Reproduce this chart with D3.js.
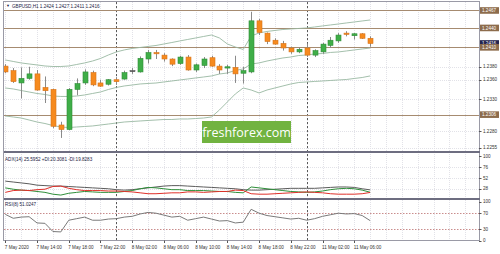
<!DOCTYPE html>
<html>
<head>
<meta charset="utf-8">
<script src="https://cdn.jsdelivr.net/npm/d3@7"></script>
<style>
  body { margin: 0; background: #fff; }
  svg text { font-family: "Liberation Sans", Arial, sans-serif; }
</style>
</head>
<body>
<div id="chart"></div>
<script>
// GBPUSD H1, bars from 7 May 10:00 to 11 May 08:00
const open  = [1.2381,1.2374,1.2355,1.2362,1.2369,1.2348,1.2345,1.2290,1.2283,1.2345,1.2355,1.2371,1.2355,1.2353,1.2360,1.2361,1.2374,1.2372,1.2392,1.2402,1.2398,1.2392,1.2385,1.2395,1.2375,1.2382,1.2394,1.2381,1.2378,1.2379,1.2370,1.2372,1.2451,1.2432,1.2421,1.2416,1.2409,1.2403,1.2409,1.2398,1.2403,1.2413,1.2420,1.2432,1.2428,1.2431,1.2424];
const high  = [1.2384,1.2378,1.2379,1.2380,1.2375,1.2365,1.2346,1.2295,1.2347,1.2362,1.2376,1.2374,1.2360,1.2361,1.2364,1.2374,1.2378,1.2396,1.2406,1.2406,1.2401,1.2393,1.2397,1.2398,1.2385,1.2395,1.2397,1.2384,1.2383,1.2397,1.2380,1.2465,1.2454,1.2433,1.2424,1.2420,1.2411,1.2410,1.2416,1.2407,1.2417,1.2426,1.2432,1.2435,1.2432,1.2432,1.2427];
const low   = [1.2370,1.2355,1.2331,1.2360,1.2343,1.2324,1.2285,1.2270,1.2282,1.2336,1.2352,1.2350,1.2349,1.2351,1.2352,1.2360,1.2369,1.2371,1.2385,1.2392,1.2388,1.2381,1.2383,1.2374,1.2372,1.2378,1.2380,1.2369,1.2369,1.2355,1.2354,1.2370,1.2429,1.2415,1.2414,1.2405,1.2400,1.2401,1.2395,1.2395,1.2400,1.2409,1.2417,1.2427,1.2422,1.2423,1.2411];
const close = [1.2372,1.2357,1.2362,1.2369,1.2344,1.2343,1.2288,1.2283,1.2345,1.2354,1.2372,1.2352,1.2350,1.2360,1.2357,1.2371,1.2374,1.2393,1.2402,1.2400,1.2392,1.2384,1.2395,1.2375,1.2383,1.2392,1.2381,1.2375,1.2380,1.2369,1.2374,1.2451,1.2433,1.2419,1.2415,1.2409,1.2403,1.2407,1.2398,1.2405,1.2415,1.2421,1.2429,1.2430,1.2431,1.2424,1.2416];

// Bollinger bands
const bbUpper  = [1.23905,1.23882,1.23859,1.23843,1.23828,1.23812,1.23804,1.23804,1.23812,1.23835,1.23859,1.23889,1.23928,1.23982,1.24029,1.2406,1.24083,1.24098,1.24114,1.24129,1.24152,1.24175,1.24199,1.24222,1.24245,1.24268,1.24291,1.24245,1.24152,1.24106,1.24067,1.24276,1.24322,1.24346,1.24361,1.24376,1.24384,1.24392,1.244,1.24415,1.24431,1.24446,1.24461,1.24477,1.24492,1.24508,1.24523];
const bbMiddle = [1.23472,1.23457,1.23433,1.2341,1.23387,1.23372,1.23348,1.23341,1.23341,1.23348,1.23364,1.23387,1.2341,1.23449,1.2348,1.23503,1.23518,1.23534,1.23542,1.23549,1.23565,1.2358,1.23596,1.23611,1.23627,1.23642,1.23658,1.23688,1.23704,1.23743,1.23766,1.23843,1.23859,1.23889,1.23913,1.23936,1.23951,1.23974,1.23982,1.23998,1.24005,1.24021,1.24029,1.24044,1.2406,1.24075,1.2409];
const bbLower  = [1.23039,1.23024,1.23008,1.22977,1.22946,1.22923,1.22892,1.22869,1.22861,1.22869,1.22877,1.22885,1.229,1.22915,1.22931,1.22946,1.22954,1.22962,1.2297,1.22977,1.22985,1.22985,1.22993,1.22993,1.23,1.23008,1.23024,1.23132,1.23256,1.23379,1.23472,1.23441,1.23395,1.23441,1.23472,1.23503,1.23534,1.23557,1.23565,1.23573,1.2358,1.23588,1.23596,1.23603,1.23619,1.23634,1.23658];

// ADX(14)
const adxMain = [45,43,41,39,36,35,34,34,33,32,31,30,29,28,26,25,26,28,30,32,34,35,35,34,33,32,31,30,29,28,26,25,25,26,27,28,29,29,29,29,30,31,32,32,31,28,25.6];
const plusDI  = [30,27,25,24,22,20,16,14,18,20,22,21,20,20,20,22,24,28,31,30,28,26,26,24,24,24,23,22,22,20,19,32,30,28,26,24,22,21,20,21,23,26,28,29,28,25,20.3];
const minusDI = [20,24,25,24,26,27,33,34,29,26,24,24,24,23,23,22,21,19,17,17,18,19,19,21,21,20,21,22,22,25,24,17,16,16,17,18,19,20,21,20,19,17,16,16,16,17,19.8];

// RSI(8)
const rsi = [67,57,60,61,45,44,23,22,52,56,60,52,52,55,56,60,62,68,72,70,65,60,62,52,56,60,55,50,51,45,47,80,70,64,61,58,55,57,52,56,62,66,70,68,69,64,51];

// horizontal levels drawn on the chart
const levels = [1.2467, 1.2440, 1.2410, 1.2306];
const lastPrice = 1.2416;

const priceTicks = [1.2380, 1.2360, 1.2330, 1.2280, 1.2255];
const adxTicks = [100, 76, 52, 28];
const rsiTicks = [100, 70, 30, 0];
const rsiLevels = [70, 30];

const timeLabels = [
  { bar: 0,  text: "7 May 2020" },
  { bar: 4,  text: "7 May 14:00" },
  { bar: 8,  text: "7 May 18:00" },
  { bar: 12, text: "7 May 22:00" },
  { bar: 16, text: "8 May 02:00" },
  { bar: 20, text: "8 May 06:00" },
  { bar: 24, text: "8 May 10:00" },
  { bar: 28, text: "8 May 14:00" },
  { bar: 32, text: "8 May 18:00" },
  { bar: 36, text: "8 May 22:00" },
  { bar: 40, text: "11 May 02:00" },
  { bar: 44, text: "11 May 06:00" }
];
const daySeparators = [14, 38];

const headerText = "GBPUSD,H1  1.2424 1.2427 1.2411 1.2416";
const adxText = "ADX(14) 25.5952 +DI:20.3081 -DI:19.8283";
const rsiText = "RSI(8) 51.0247";

// ---- layout ----
const W = 500, H = 254;
const L = 4, R = 479;
const main = { top: 2, bottom: 151 };
const adxP = { top: 153, bottom: 198 };
const rsiP = { top: 200, bottom: 240.5 };

const svg = d3.select("#chart").append("svg")
  .attr("width", W).attr("height", H);

const x = d3.scaleLinear().domain([-0.165, 59.73]).range([L, R]);
const y = d3.scaleLinear().domain([1.22498, 1.24801]).range([main.bottom, main.top]);
const yAdx = d3.scaleLinear().domain([7.5, 103]).range([adxP.bottom, 155]);
const yRsi = d3.scaleLinear().domain([0, 100]).range([rsiP.bottom, 201.5]);

const defs = svg.append("defs");
function clip(id, top, bottom) {
  defs.append("clipPath").attr("id", id)
    .append("rect").attr("x", L).attr("y", top).attr("width", R - L).attr("height", bottom - top);
}
clip("cMain", main.top, main.bottom);
clip("cAdx", adxP.top, adxP.bottom);
clip("cRsi", rsiP.top, rsiP.bottom);

// grid
const grid = svg.append("g").attr("stroke", "#e2e2e8").attr("stroke-width", 1)
  .attr("stroke-dasharray", "1,1");
grid.selectAll(".vg").data(d3.range(0, 60, 2)).enter().append("line")
  .attr("x1", d => Math.round(x(d)) + 0.5).attr("x2", d => Math.round(x(d)) + 0.5)
  .attr("y1", main.top).attr("y2", rsiP.bottom);
grid.selectAll(".hg").data(priceTicks).enter().append("line")
  .attr("x1", L).attr("x2", R)
  .attr("y1", d => Math.round(y(d)) + 0.5).attr("y2", d => Math.round(y(d)) + 0.5);
grid.selectAll(".ha").data(adxTicks.slice(1)).enter().append("line")
  .attr("x1", L).attr("x2", R)
  .attr("y1", d => Math.round(yAdx(d)) + 0.5).attr("y2", d => Math.round(yAdx(d)) + 0.5);

// day separators
svg.append("g").selectAll("line").data(daySeparators).enter().append("line")
  .attr("x1", d => Math.round(x(d)) + 0.5).attr("x2", d => Math.round(x(d)) + 0.5)
  .attr("y1", main.top).attr("y2", rsiP.bottom)
  .attr("stroke", "#5a5a5a").attr("stroke-width", 1).attr("stroke-dasharray", "2,2");

// horizontal levels
svg.append("g").selectAll("line").data(levels).enter().append("line")
  .attr("x1", L).attr("x2", R)
  .attr("y1", d => Math.round(y(d)) + 0.5).attr("y2", d => Math.round(y(d)) + 0.5)
  .attr("stroke", "#a68b70").attr("stroke-width", 1);

// watermark
const wm = svg.append("g");
wm.append("rect").attr("x", 202).attr("y", 121).attr("width", 89).attr("height", 22)
  .attr("fill", "#71b340");
wm.append("text").attr("x", 246.5).attr("y", 136.5).attr("text-anchor", "middle")
  .attr("fill", "#fff").attr("font-size", 12.5)
  .style("font-family", "'Open Sans', sans-serif").text("freshforex.com");

// Bollinger bands
const mainG = svg.append("g").attr("clip-path", "url(#cMain)");
const bars = d3.range(open.length);
[bbUpper, bbMiddle, bbLower].forEach(band => {
  mainG.append("path").datum(bars)
    .attr("fill", "none").attr("stroke", "#98b8a2").attr("stroke-width", 0.9)
    .attr("d", d3.line().x(i => x(i)).y(i => y(band[i])));
});

// candles
const colorOf = i => close[i] > open[i] ? "#3fae48" : close[i] < open[i] ? "#f68a1e" : "#555";
const strokeOf = i => close[i] > open[i] ? "#2f8d38" : close[i] < open[i] ? "#d8731a" : "#555";
const cg = mainG.append("g");
cg.selectAll(".wick").data(bars).enter().append("line")
  .attr("x1", i => Math.round(x(i)) + 0.5).attr("x2", i => Math.round(x(i)) + 0.5)
  .attr("y1", i => y(high[i])).attr("y2", i => y(low[i]))
  .attr("stroke", "#8a8a8a").attr("stroke-width", 1);
cg.selectAll(".body").data(bars).enter().append("rect")
  .attr("x", i => Math.round(x(i)) - 2)
  .attr("width", 5)
  .attr("y", i => y(Math.max(open[i], close[i])))
  .attr("height", i => Math.max(1, Math.abs(y(open[i]) - y(close[i]))))
  .attr("fill", colorOf).attr("stroke", strokeOf).attr("stroke-width", 0.6);

// ADX lines
const adxG = svg.append("g").attr("clip-path", "url(#cAdx)");
[[adxMain, "#5c5c5c"], [plusDI, "#2f8f3a"], [minusDI, "#e0302a"]].forEach(([s, c]) => {
  adxG.append("path").datum(bars).attr("fill", "none").attr("stroke", c).attr("stroke-width", 1)
    .attr("d", d3.line().x(i => x(i)).y(i => yAdx(s[i])));
});

// RSI
const rsiG = svg.append("g").attr("clip-path", "url(#cRsi)");
rsiG.selectAll(".lv").data(rsiLevels).enter().append("line")
  .attr("x1", L).attr("x2", R)
  .attr("y1", d => Math.round(yRsi(d)) + 0.5).attr("y2", d => Math.round(yRsi(d)) + 0.5)
  .attr("stroke", "#c98c8c").attr("stroke-dasharray", "1.5,1.5").attr("stroke-width", 1);
rsiG.append("path").datum(bars).attr("fill", "none").attr("stroke", "#7a7a7a").attr("stroke-width", 1)
  .attr("d", d3.line().x(i => x(i)).y(i => yRsi(rsi[i])));

// frame and separators
svg.append("rect").attr("x", L - 0.5).attr("y", 1.5).attr("width", R - L + 1).attr("height", rsiP.bottom - 1.5)
  .attr("fill", "none").attr("stroke", "#9a9aa6").attr("stroke-width", 1);
[152, 199].forEach(sy => {
  svg.append("line").attr("x1", L).attr("x2", R + 1).attr("y1", sy).attr("y2", sy)
    .attr("stroke", "#6d6d80").attr("stroke-width", 2);
});

// right axis
const fs = 4.6;
const axG = svg.append("g").attr("font-size", fs).attr("fill", "#333");
function rightTicks(data, scale, fmt) {
  axG.selectAll(null).data(data).enter().append("line")
    .attr("x1", R).attr("x2", R + 2.5)
    .attr("y1", d => Math.round(scale(d)) + 0.5).attr("y2", d => Math.round(scale(d)) + 0.5)
    .attr("stroke", "#555");
  axG.selectAll(null).data(data).enter().append("text")
    .attr("x", R + 4).attr("y", d => scale(d) + 1.7)
    .text(fmt);
}
rightTicks(priceTicks, y, d3.format(".4f"));
rightTicks(adxTicks, yAdx, d3.format("d"));
rightTicks(rsiTicks, yRsi, d3.format("d"));

// price tags
function tag(v, fill) {
  const g = svg.append("g");
  g.append("rect").attr("x", R + 1).attr("y", y(v) - 3.3).attr("width", 19).attr("height", 6.6).attr("fill", fill);
  g.append("text").attr("x", R + 3).attr("y", y(v) + 1.7).attr("font-size", fs).attr("fill", "#fff")
    .text(d3.format(".4f")(v));
}
tag(lastPrice, "#24244e");
levels.forEach(v => tag(v, "#8d6c4c"));

// time axis
const tG = svg.append("g").attr("font-size", fs).attr("fill", "#333");
tG.selectAll("line").data(timeLabels).enter().append("line")
  .attr("x1", d => Math.round(x(d.bar)) + 0.5).attr("x2", d => Math.round(x(d.bar)) + 0.5)
  .attr("y1", rsiP.bottom).attr("y2", rsiP.bottom + 2.5).attr("stroke", "#555");
tG.selectAll("text").data(timeLabels).enter().append("text")
  .attr("x", d => x(d.bar) - 0.5).attr("y", 248.5).text(d => d.text);

// panel captions
svg.append("text").attr("x", 6).attr("y", 7.3).attr("font-size", 4).attr("fill", "#1c1c44").text("\u25BC");
svg.append("text").attr("x", 12).attr("y", 7.5).attr("font-size", fs).attr("fill", "#1c1c44").text(headerText);
svg.append("text").attr("x", 5).attr("y", 161).attr("font-size", fs).attr("fill", "#1c1c44").text(adxText);
svg.append("text").attr("x", 5).attr("y", 206).attr("font-size", fs).attr("fill", "#1c1c44").text(rsiText);
</script>
</body>
</html>
